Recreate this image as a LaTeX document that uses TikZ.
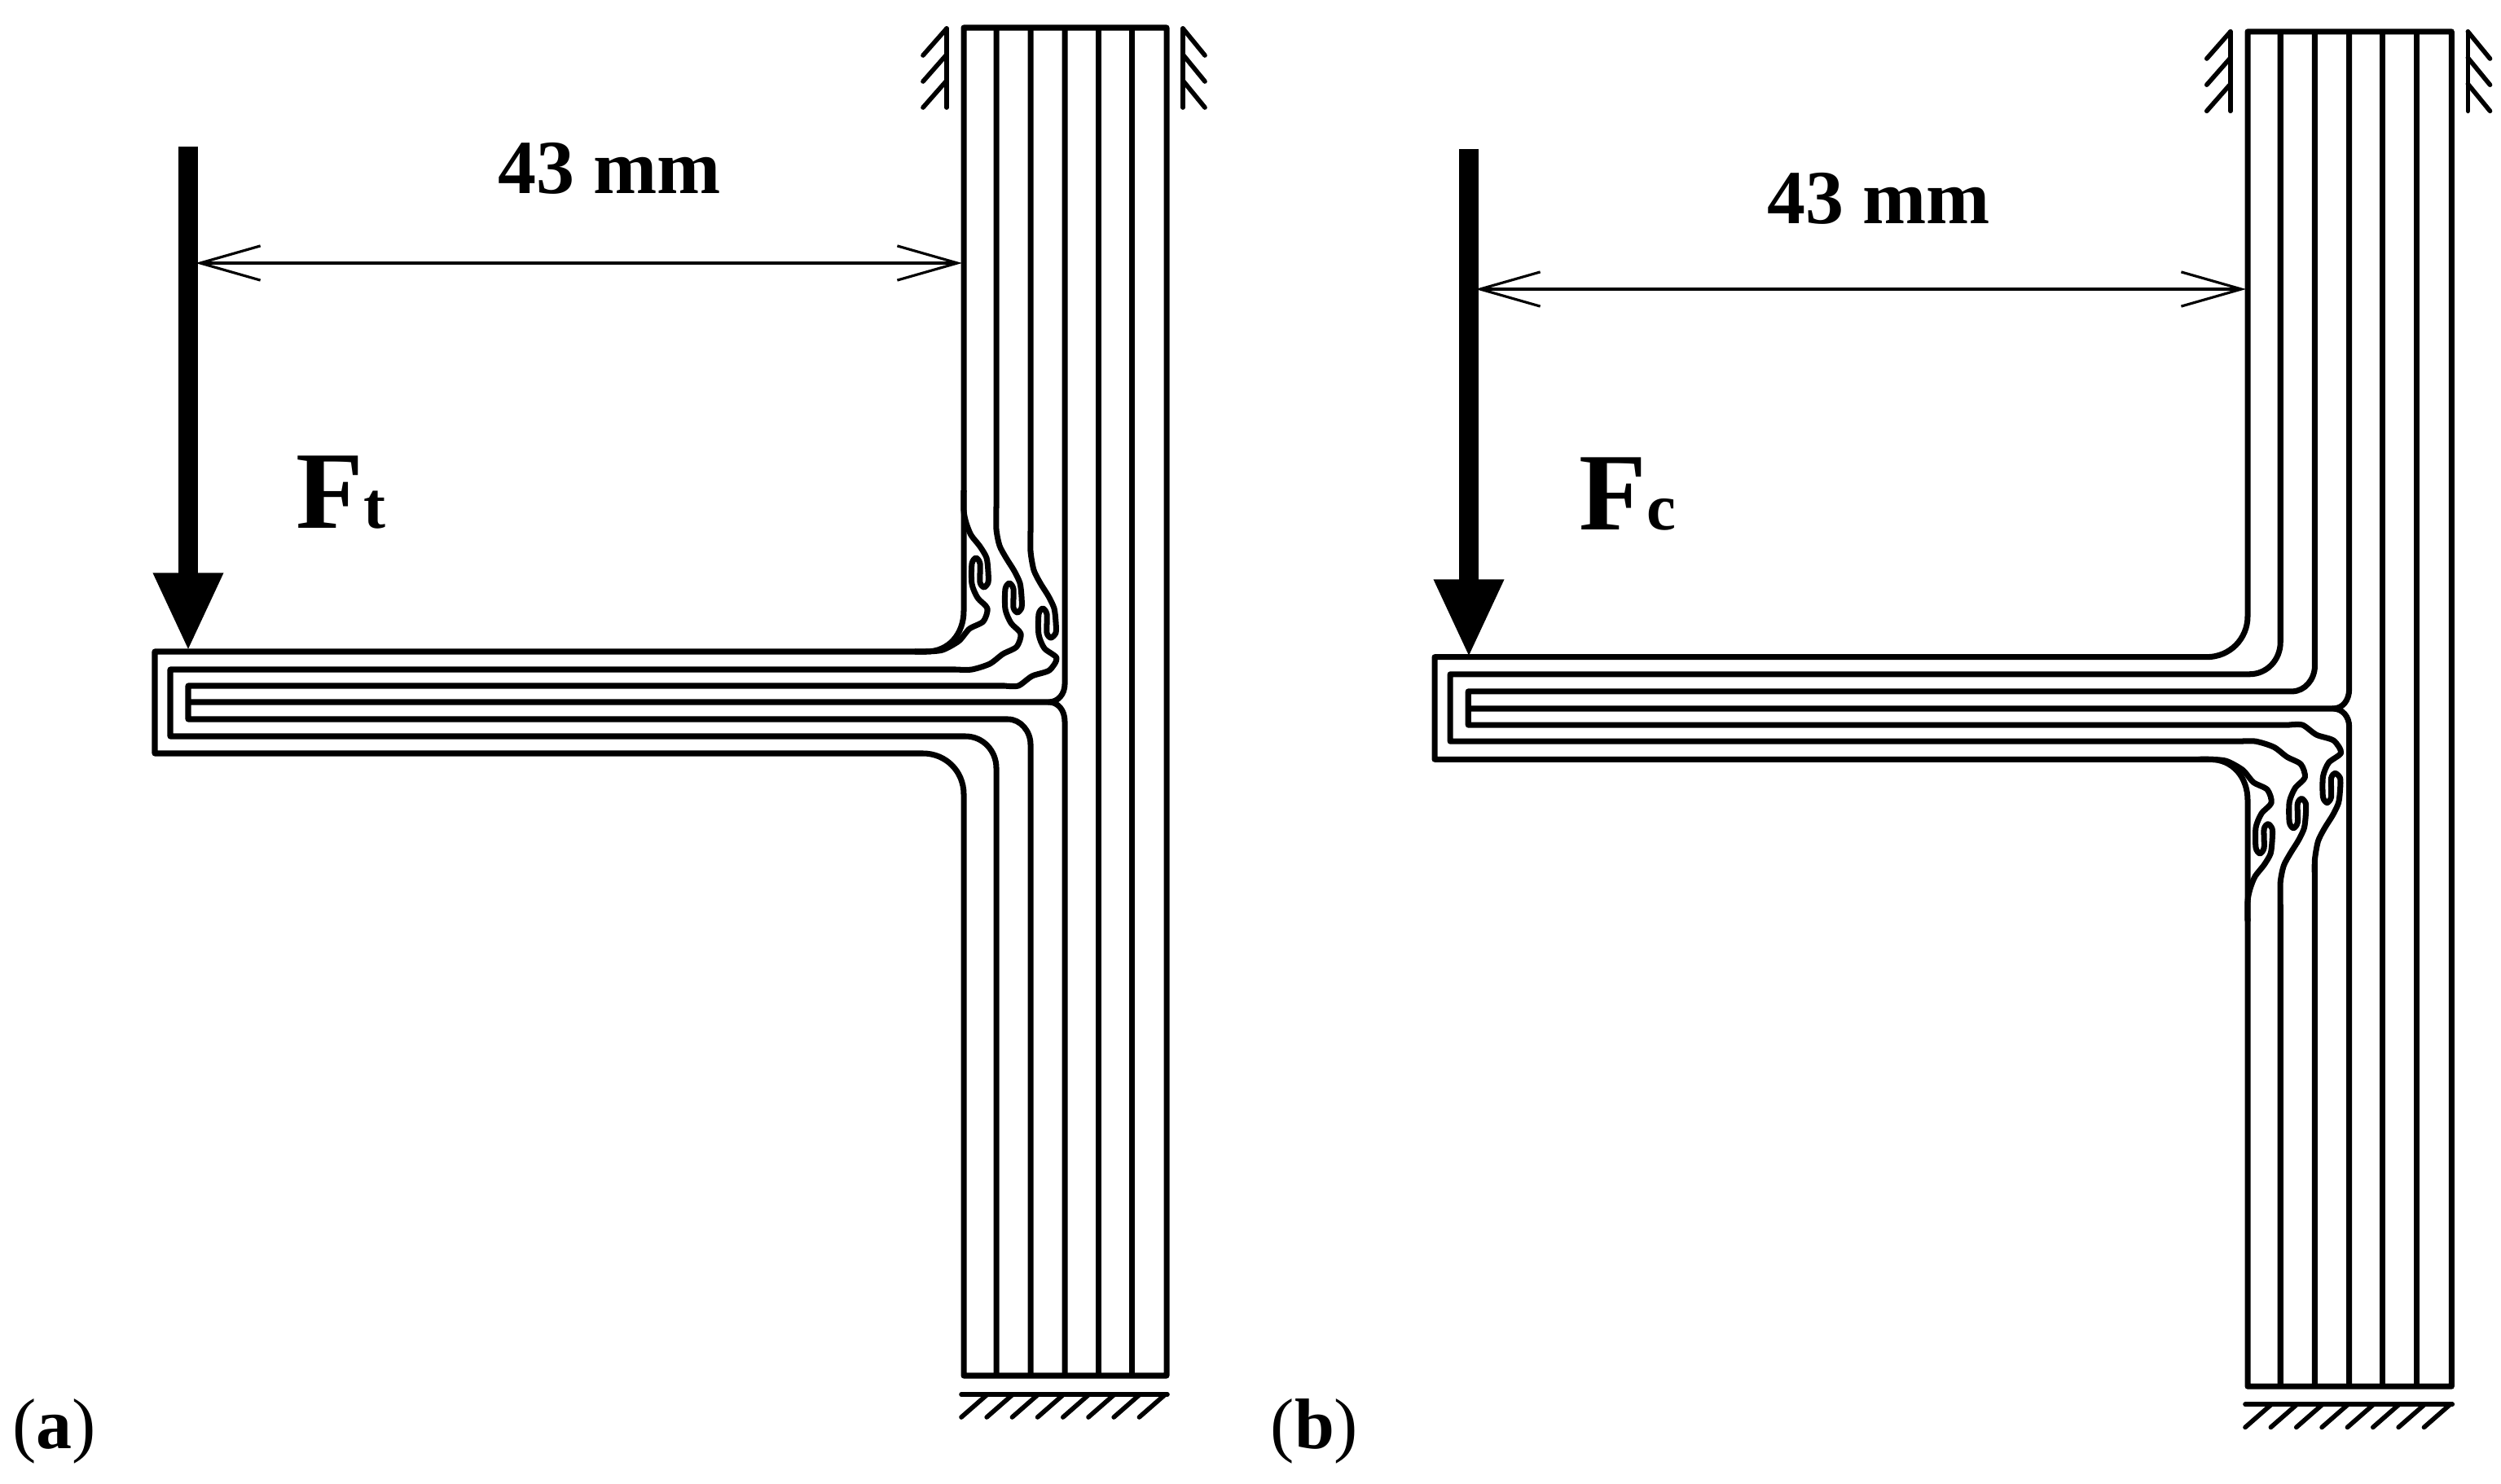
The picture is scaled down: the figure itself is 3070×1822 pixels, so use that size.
\documentclass[tikz,border=0pt]{standalone}
\usepackage{fontspec}
\setmainfont{Liberation Serif}
\usetikzlibrary{arrows.meta}

\tikzset{
	tjoint/.pic = {
		\draw[ply] (249,-828) -- (0,-828) -- (0,-112) .. controls (0,-84) and (-18,-62) .. (-46,-62) -- (-993,-62) -- (-993,63) -- (-50,63) .. controls (-22,63) and (0,85) .. (0,113) -- (0,827) -- (249,827) -- cycle;
		\draw[ply] plot[smooth, tension=.45] coordinates {(0,-260) (0,-235) (3,-220) (9,-205) (20,-191) (28,-177) (30,-160) (30,-147) (25,-141) (20,-147) (20,-170) (15,-177) (10,-170) (10,-145) (17,-128) (29,-115) (24,-99) (7,-90) (-6,-75) (-26,-64) (-46,-62) (-60,-62)};
		\draw[ply] (40,-828) -- plot[smooth, tension=.45] coordinates {(40,-240) (40,-212) (44,-192) (52,-177) (62,-161) (69,-146) (71,-129) (71,-116) (66,-110) (61,-116) (61,-139) (56,-146) (51,-139) (51,-114) (58,-97) (70,-84) (65,-68) (48,-59) (32,-47) (10,-40) (-10,-40)} -- (-974,-40) -- (-974,42) -- (2,42) .. controls (24,42) and (40,60) .. (40,81) -- (40,827);
		\draw[ply] (82,-828) -- plot[smooth, tension=.45] coordinates {(82,-210) (82,-185) (86,-162) (94,-146) (104,-130) (111,-115) (113,-98) (113,-85) (107,-79) (102,-85) (102,-108) (97,-115) (92,-108) (92,-83) (99,-66) (114,-54) (105,-39) (84,-32) (67,-20) (50,-20)} -- (-952,-20) -- (-952,21) -- (54,21) .. controls (70,21) and (82,36) .. (82,52) -- (82,827);
		\draw[ply] (124,-828) -- (124,-22) .. controls (124,-10) and (116,0) .. (104,0) -- (-952,0);
		\draw[ply] (104,0) .. controls (116,0) and (124,10) .. (124,24) -- (124,827);
		\foreach \x in {165,206}
			\draw[ply] (\x,-828) -- (\x,827);
	},
	fixings/.pic = {
		\draw[fixing] (-21,-827) -- (-21,-730);
		\draw[fixing] (269,-827) -- (269,-730);
		\foreach \y in {-827,-795,-763} {
			\draw[fixing] (-21,\y) -- (-50,\y+33);
			\draw[fixing] (269,\y) -- (296,\y+33);
		}
		\draw[fixing] (-3,850) -- (250,850);
		\foreach \i in {0,...,7}
			\draw[fixing] ({-3+31.2*\i},878) -- ({29+31.2*\i},850);
	}
}

\begin{document}
\begin{tikzpicture}[x=0.01cm, y=-0.01cm,
	ply/.style = {line width=2pt, line join=round},
	fixing/.style = {line width=1.6pt, line cap=round},
	force/.style = {line width=6.8pt, -{Triangle[length=27.5pt, width=22.5pt]}},
	span/.style = {line width=0.9pt, {Straight Barb[length=21pt, width=12pt]}-{Straight Barb[length=21pt, width=12pt]}},
	dimtext/.style = {anchor=base, inner sep=0, font=\fontsize{26.7}{30}\selectfont\bfseries},
	forcetext/.style = {anchor=base west, inner sep=0, font=\fontsize{38.5}{44}\selectfont\bfseries},
	paneltext/.style = {anchor=base west, inner sep=0, font=\fontsize{25}{30}\selectfont}]
	\useasboundingbox (0,0) rectangle (3070,1822);

	\pic at (1183,862) {tjoint};
	\pic at (1183,862) {fixings};
	\coordinate (topa) at (231,180);
	\coordinate (tipa) at (231,800);
	\coordinate (gripa) at (240,323);
	\coordinate (walla) at (1181,323);
	\draw[force] (topa) -- (tipa);
	\draw[span] (gripa) -- (walla);
	\node[dimtext] (dima) at (748,238) {43 mm};
	\node[forcetext] (fa) at (363,649) {F{\fontsize{23}{26}\selectfont t}};
	\node[paneltext] (capa) at (15,1778) {(\textbf{a})};

	\pic[xscale=1.005, yscale=-1.005] at (2759,870) {tjoint};
	\pic[scale=1.005] at (2759,870) {fixings};
	\coordinate (topb) at (1803,183);
	\coordinate (tipb) at (1803,808);
	\coordinate (gripb) at (1811,355);
	\coordinate (wallb) at (2757,355);
	\draw[force] (topb) -- (tipb);
	\draw[span] (gripb) -- (wallb);
	\node[dimtext] (dimb) at (2306,275) {43 mm};
	\node[forcetext] (fb) at (1938,650) {F{\fontsize{23}{26}\selectfont c}};
	\node[paneltext] (capb) at (1559,1778) {(\textbf{b})};
\end{tikzpicture}
\end{document}
